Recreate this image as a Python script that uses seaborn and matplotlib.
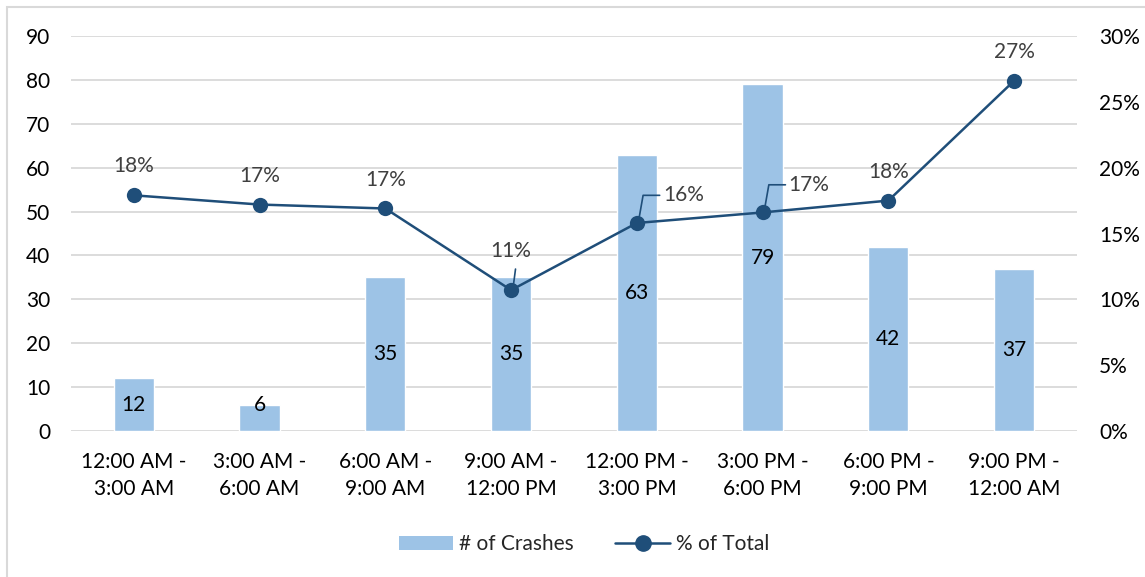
import numpy as np
import matplotlib
matplotlib.use("Agg")
import matplotlib.pyplot as plt
import seaborn as sns
from matplotlib.lines import Line2D
from matplotlib.patches import Patch, Rectangle
from matplotlib.ticker import FuncFormatter

# data
periods = ["12:00 AM -\n3:00 AM", "3:00 AM -\n6:00 AM", "6:00 AM -\n9:00 AM",
           "9:00 AM -\n12:00 PM", "12:00 PM -\n3:00 PM", "3:00 PM -\n6:00 PM",
           "6:00 PM -\n9:00 PM", "9:00 PM -\n12:00 AM"]
crashes = [12, 6, 35, 35, 63, 79, 42, 37]
pct_total = [0.179, 0.172, 0.169, 0.107, 0.158, 0.166, 0.175, 0.266]

bar_color = "#9DC3E6"
line_color = "#1F4E79"
grid_color = "#D9D9D9"
fs = 15

sns.set_theme(style="white")
plt.rcParams["font.family"] = ["Lato", "DejaVu Sans"]

fig = plt.figure(figsize=(11.45, 5.77), dpi=100)
ax = fig.add_axes([0.062, 0.253, 0.8786, 0.6846])

sns.barplot(x=periods, y=crashes, color=bar_color, width=0.32, saturation=1,
            ax=ax, zorder=2)
ax.set_ylim(0, 90)
ax.set_yticks(range(0, 91, 10))
ax.set_xlim(-0.5, 7.5)
ax.yaxis.grid(True, color=grid_color, linewidth=1.3, zorder=0)
ax.set_axisbelow(True)
for s in ax.spines.values():
    s.set_visible(False)
ax.tick_params(axis="both", length=0, labelsize=fs, colors="#000000")
ax.tick_params(axis="y", pad=15)
ax.tick_params(axis="x", pad=15)
for t in ax.get_xticklabels():
    t.set_linespacing(1.45)
ax.set_xlabel("")
ax.set_ylabel("")

# bar value labels (inside, centered)
for i, v in enumerate(crashes):
    ax.text(i, max(v / 2, 6), str(v), ha="center", va="center",
            fontsize=fs, color="#000000", zorder=3)

ax2 = ax.twinx()
sns.lineplot(x=np.arange(len(pct_total)), y=pct_total, color=line_color,
             marker="o", markersize=11, markeredgewidth=0, linewidth=1.8,
             ax=ax2, zorder=4)
ax2.set_ylim(0, 0.30)
ax2.set_yticks(np.arange(0, 0.301, 0.05))
ax2.yaxis.set_major_formatter(FuncFormatter(lambda v, p: f"{v * 100:.0f}%"))
for s in ax2.spines.values():
    s.set_visible(False)
ax2.tick_params(axis="y", length=0, labelsize=fs, colors="#000000", pad=16)
ax2.set_ylabel("")

# percentage labels
for i, p in enumerate(pct_total):
    txt = f"{p * 100:.0f}%"
    if i in (4, 5):
        # callouts with leader lines, placed up-right
        ax2.annotate(txt, xy=(i + 0.02, p + 0.005), xytext=(i + 0.37, p + 0.021),
                     fontsize=fs, color="#404040", ha="center", va="center",
                     arrowprops=dict(arrowstyle="-", color=line_color, lw=1.2,
                                     connectionstyle="angle,angleA=0,angleB=80,rad=0",
                                     shrinkA=23, shrinkB=0))
    elif i == 3:
        ax2.text(i, p + 0.030, txt, fontsize=fs, color="#404040",
                 ha="center", va="center")
        # short leader under the 11% label
        ax2.plot([i + 0.035, i + 0.02], [p + 0.016, p + 0.005],
                 color=line_color, lw=1.2)
    else:
        ax2.text(i, p + 0.022, txt, fontsize=fs, color="#404040",
                 ha="center", va="center")

# legend
handles = [Patch(facecolor=bar_color, edgecolor="none"),
           Line2D([], [], color=line_color, marker="o", markersize=11,
                  linewidth=1.8)]
fig.legend(handles, ["# of Crashes", "% of Total"], loc="center",
           bbox_to_anchor=(0.51, 0.057), ncol=2, frameon=False, fontsize=fs,
           handlelength=2.6, columnspacing=2.0, handletextpad=0.3)

# outer chart border
fig.patches.append(Rectangle((0.006, -0.01), 1.0, 0.998, transform=fig.transFigure,
                             fill=False, edgecolor="#D9D9D9", linewidth=1.5))

fig.savefig("out.png", dpi=100)
